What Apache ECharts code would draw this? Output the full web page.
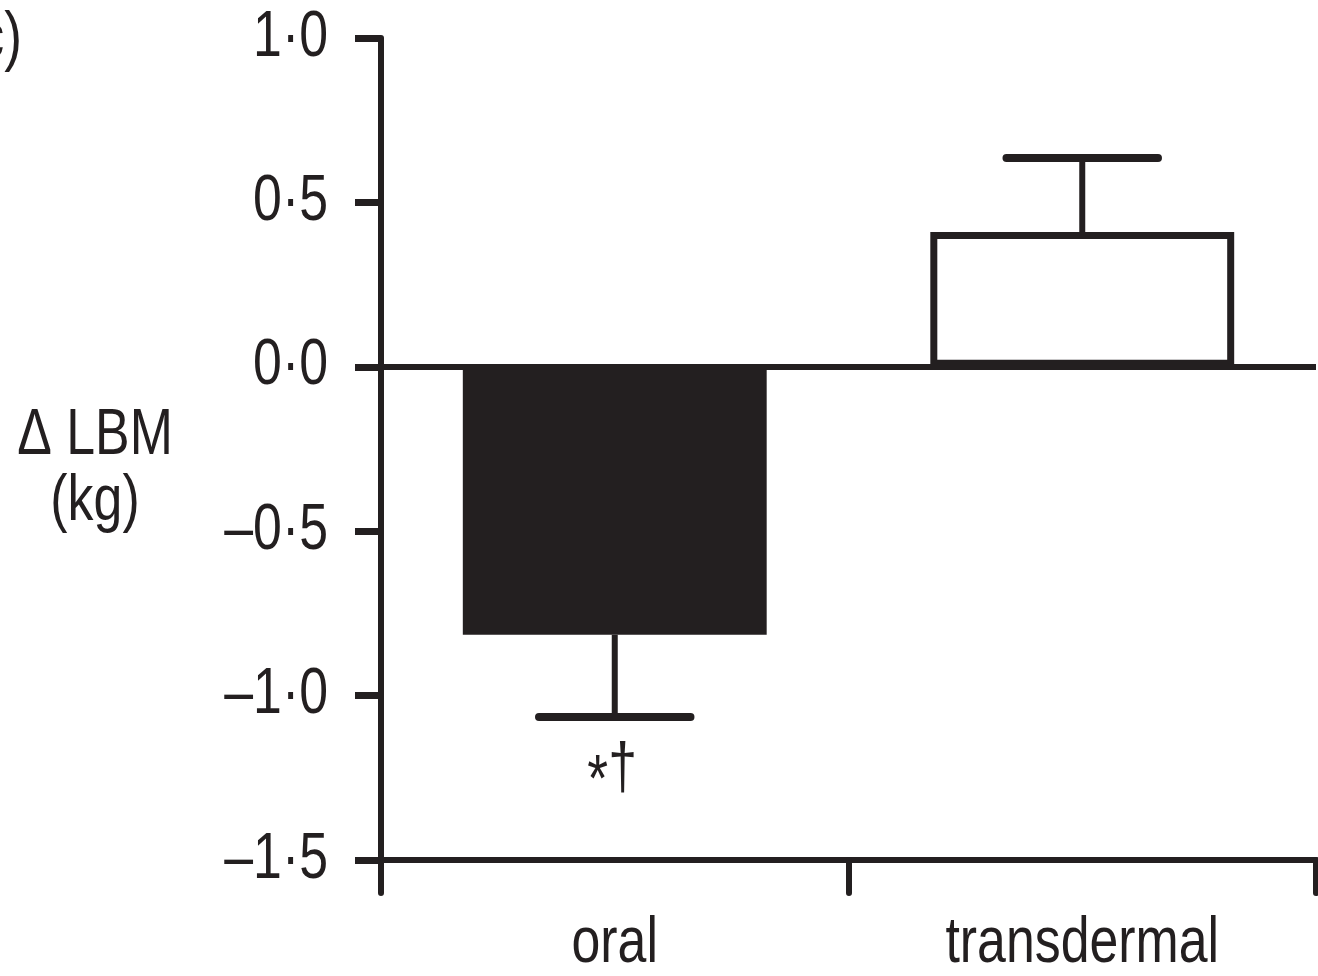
<!DOCTYPE html>
<html>
<head>
<meta charset="utf-8">
<script src="https://cdn.jsdelivr.net/npm/echarts@6/dist/echarts.min.js"></script>
<style>
  html, body { margin: 0; padding: 0; background: #fff; }
  #chart { width: 1318px; height: 976px; }
</style>
</head>
<body>
<div id="chart"></div>
<script>
// Change in lean body mass (kg) by route of administration, mean ± SEM
const categories = ['oral', 'transdermal'];
const meanChange = [-0.815, 0.41];
const semChange = [0.25, 0.225];
const significance = ['*†', ''];
const yTickValues = [-1.5, -1.0, -0.5, 0.0, 0.5, 1.0];
const yAxisTitle = ['Δ LBM', '(kg)'];
const panelTag = 'c)';

const INK = '#231f20';
const FONT = '"Liberation Sans", Arial, Helvetica, sans-serif';
const FONT_SIZE = 64;
const NARROW = 0.81;   // horizontal squeeze for a condensed look

const fmtTick = v => (v < 0 ? '–' : '') + Math.abs(v).toFixed(1).replace('.', '·');

const barData = categories.map((c, i) => ({
  value: meanChange[i],
  itemStyle: meanChange[i] < 0
    ? { color: INK, borderColor: INK, borderWidth: 0 }
    : { color: '#ffffff', borderColor: INK, borderWidth: 7 }
}));

// error bar ends: one SEM away from the mean, on the side the bar points to
const errData = categories.map((c, i) => [
  i,
  meanChange[i],
  meanChange[i] < 0 ? meanChange[i] - semChange[i] : meanChange[i] + semChange[i],
  significance[i]
]);

const chart = echarts.init(document.getElementById('chart'), null, { renderer: 'canvas' });

chart.setOption({
  animation: false,
  backgroundColor: '#ffffff',
  grid: { left: 381, right: 2, top: 38, bottom: 116, containLabel: false },
  xAxis: {
    type: 'category',
    data: categories,
    position: 'bottom',
    axisLine: { onZero: false, lineStyle: { color: INK, width: 6 } },
    axisTick: { show: true, length: 33, lineStyle: { color: INK, width: 6, cap: 'round' } },
    axisLabel: { show: false },
    splitLine: { show: false }
  },
  yAxis: {
    type: 'value',
    min: yTickValues[0],
    max: yTickValues[yTickValues.length - 1],
    interval: yTickValues[1] - yTickValues[0],
    axisLine: { show: true, lineStyle: { color: INK, width: 6 } },
    axisTick: { show: true, length: 26, lineStyle: { color: INK, width: 7 } },
    axisLabel: { show: false },
    splitLine: { show: false }
  },
  series: [
    {
      type: 'bar',
      data: barData,
      barWidth: '65%',
      z: 2,
      markLine: {
        silent: true,
        symbol: ['none', 'none'],
        label: { show: false },
        lineStyle: { color: INK, width: 6, type: 'solid' },
        data: [{ yAxis: 0 }]
      }
    },
    {
      type: 'custom',
      z: 3,
      data: errData,
      renderItem: (params, api) => {
        const x = api.value(0);
        const from = api.coord([x, api.value(1)]);
        const to = api.coord([x, api.value(2)]);
        const capHalf = api.size([1, 0])[0] * 0.162;
        const children = [
          { type: 'line', shape: { x1: from[0], y1: from[1], x2: to[0], y2: to[1] },
            style: { stroke: INK, lineWidth: 6 } },
          { type: 'line', shape: { x1: to[0] - capHalf, y1: to[1], x2: to[0] + capHalf, y2: to[1] },
            style: { stroke: INK, lineWidth: 8, lineCap: 'round' } }
        ];
        const note = api.value(3);
        if (note) {
          // asterisk and dagger set as two glyphs so they sit like the printed mark
          children.push({ type: 'text', x: to[0] - 17, y: to[1] + 66, scaleX: NARROW,
            style: { text: note.charAt(0), fill: INK, font: '66px ' + FONT,
                     align: 'center', verticalAlign: 'middle' } });
          children.push({ type: 'text', x: to[0] + 8, y: to[1] + 53, scaleX: NARROW,
            style: { text: note.slice(1), fill: INK, font: '64px ' + FONT,
                     align: 'center', verticalAlign: 'middle' } });
        }
        return { type: 'group', children };
      }
    }
  ]
});

// Tick labels and titles, placed from the axes' own scales and drawn condensed
const labelEls = [];
const yAxisPx = chart.convertToPixel({ xAxisIndex: 0 }, categories[0]) -
  (chart.convertToPixel({ xAxisIndex: 0 }, categories[1]) - chart.convertToPixel({ xAxisIndex: 0 }, categories[0])) / 2;
const xAxisPy = chart.convertToPixel({ yAxisIndex: 0 }, yTickValues[0]);

yTickValues.forEach(v => {
  labelEls.push({
    type: 'text', x: yAxisPx - 53, y: chart.convertToPixel({ yAxisIndex: 0 }, v), scaleX: NARROW,
    style: { text: fmtTick(v), fill: INK, font: FONT_SIZE + 'px ' + FONT,
             textAlign: 'right', textVerticalAlign: 'middle', align: 'right', verticalAlign: 'middle' }
  });
});
categories.forEach(c => {
  labelEls.push({
    type: 'text', x: chart.convertToPixel({ xAxisIndex: 0 }, c), y: xAxisPy + 52, scaleX: NARROW,
    style: { text: c, fill: INK, font: FONT_SIZE + 'px ' + FONT,
             textAlign: 'center', textVerticalAlign: 'top', align: 'center', verticalAlign: 'top' }
  });
});
yAxisTitle.forEach((t, i) => {
  labelEls.push({
    type: 'text', x: 95, y: 436 + i * 66, scaleX: NARROW,
    style: { text: t, fill: INK, font: FONT_SIZE + 'px ' + FONT,
             textAlign: 'center', textVerticalAlign: 'middle', align: 'center', verticalAlign: 'middle' }
  });
});
labelEls.push({
  type: 'text', x: 22, y: 40, scaleX: NARROW,
  style: { text: panelTag, fill: INK, font: '66px ' + FONT,
           textAlign: 'right', textVerticalAlign: 'middle', align: 'right', verticalAlign: 'middle' }
});

chart.setOption({ graphic: labelEls });
</script>
</body>
</html>
